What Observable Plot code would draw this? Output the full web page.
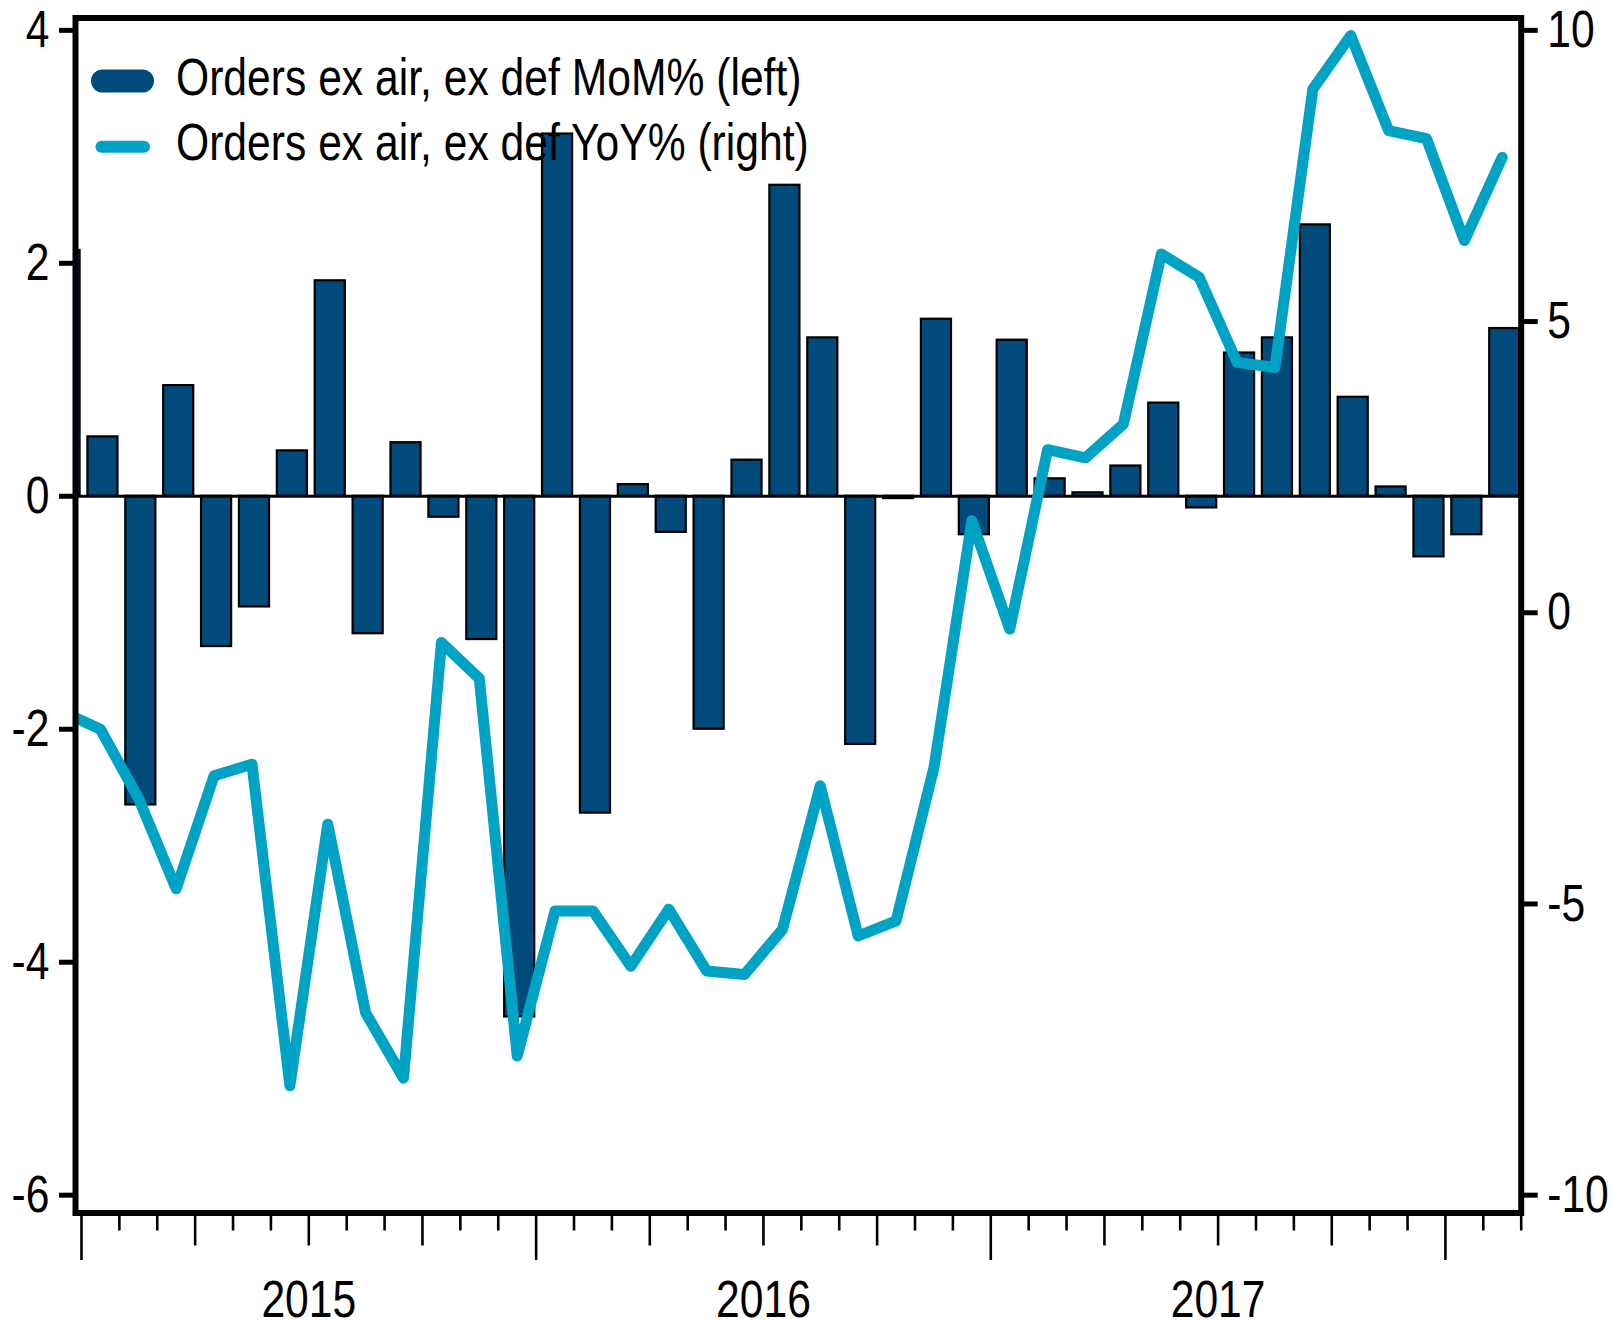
<!DOCTYPE html>
<html>
<head>
<meta charset="utf-8">
<script src="https://cdn.jsdelivr.net/npm/d3@7"></script>
<script src="https://cdn.jsdelivr.net/npm/@observablehq/plot@0.6"></script>
<style>
  html, body { margin: 0; padding: 0; background: #fff; }
  #chart { position: relative; width: 1613px; height: 1325px; }
</style>
</head>
<body>
<div id="chart"></div>
<script>
// ---- data ----
const months = ["2014-12",
  "2015-01","2015-02","2015-03","2015-04","2015-05","2015-06","2015-07","2015-08","2015-09","2015-10","2015-11","2015-12",
  "2016-01","2016-02","2016-03","2016-04","2016-05","2016-06","2016-07","2016-08","2016-09","2016-10","2016-11","2016-12",
  "2017-01","2017-02","2017-03","2017-04","2017-05","2017-06","2017-07","2017-08","2017-09","2017-10","2017-11","2017-12",
  "2018-01","2018-02"];
const momLeft = [2.11,
  0.51, -2.65, 0.95, -1.29, -0.95, 0.39, 1.85, -1.18, 0.46, -0.18, -1.23, -4.47,
  3.11, -2.72, 0.10, -0.31, -2.00, 0.31, 2.67, 1.36, -2.13, -0.02, 1.52, -0.33,
  1.34, 0.15, 0.03, 0.26, 0.80, -0.10, 1.23, 1.36, 2.33, 0.85, 0.08, -0.52,
  -0.33, 1.44];
const yoyRight = [-1.70,
  -2.00, -3.18, -4.74, -2.80, -2.60, -8.12, -3.63, -6.87, -7.99, -0.51, -1.13, -7.61,
  -5.12, -5.12, -6.07, -5.09, -6.15, -6.21, -5.44, -2.97, -5.55, -5.29, -2.66, 1.58,
  -0.28, 2.80, 2.66, 3.24, 6.16, 5.76, 4.30, 4.21, 8.99, 9.91, 8.28, 8.14,
  6.39, 7.82];
const leftTicks = [4, 2, 0, -2, -4, -6];
const rightTicks = [10, 5, 0, -5, -10];
const yearLabels = ["2015", "2016", "2017"];
const seriesNames = ["Orders ex air, ex def MoM% (left)", "Orders ex air, ex def YoY% (right)"];

// ---- derived ----
const baseYear = 2015;
const monthIndex = s => (+s.slice(0, 4) - baseYear) * 12 + (+s.slice(5, 7) - 1);
const rows = months.map((m, i) => ({m, idx: monthIndex(m), mom: momLeft[i], yoy: yoyRight[i]}));
// right axis value r maps onto left units as (r - 2) / 2
const toLeft = r => (r - 2) / 2;
const lastIdx = d3.max(rows, d => d.idx) + 1;
const monthTicks = d3.range(0, lastIdx + 1);
const longTicks = monthTicks.filter(t => t % 12 === 0);
const midTicks = monthTicks.filter(t => t % 12 !== 0 && t % 3 === 0);
const shortTicks = monthTicks.filter(t => t % 3 !== 0);
const yearPos = yearLabels.map(y => (+y - baseYear) * 12 + 6);

const barColor = "#014A7C";
const lineColor = "#00A3C4";
const font = "'Liberation Sans', Arial, sans-serif";
const narrow = 0.82;

const plot = Plot.plot({
  width: 1613,
  height: 1325,
  marginLeft: 75,
  marginRight: 92.3,
  marginTop: 17.5,
  marginBottom: 112.5,
  x: {type: "linear", domain: [-0.158, lastIdx]},
  y: {domain: [-6.153, 4.106]},
  style: {fontFamily: font, background: "#fff", color: "#000", overflow: "visible"},
  marks: [
    Plot.rectY(rows, {x1: d => d.idx, x2: d => d.idx + 1, y1: 0, y2: d => d.mom,
      fill: barColor, stroke: "#000", strokeWidth: 2.2, insetLeft: 6.4, insetRight: 1.4, clip: true}),
    Plot.ruleY([0], {stroke: "#000", strokeWidth: 3}),
    Plot.line(rows, {x: d => d.idx + 0.5, y: d => toLeft(d.yoy), stroke: lineColor,
      strokeWidth: 11, strokeLinejoin: "round", strokeLinecap: "round", clip: true}),
    Plot.axisY(leftTicks, {anchor: "left", tickSize: 16, tickPadding: 10, strokeWidth: 5,
      fontSize: 52, tickFormat: d => String(d), label: null}),
    Plot.axisY(rightTicks.map(toLeft), {anchor: "right", tickSize: 16, tickPadding: 10, strokeWidth: 5,
      fontSize: 52, tickFormat: d => String(Math.round(2 * d + 2)), label: null}),
    Plot.axisX(longTicks, {anchor: "bottom", tickSize: 47.5, strokeWidth: 2.6, fill: null, label: null}),
    Plot.axisX(midTicks, {anchor: "bottom", tickSize: 33, strokeWidth: 2.6, fill: null, label: null}),
    Plot.axisX(shortTicks, {anchor: "bottom", tickSize: 18, strokeWidth: 2.6, fill: null, label: null}),
    Plot.axisX(yearPos, {anchor: "bottom", tickSize: 0, tickPadding: 67, fontSize: 52,
      tickFormat: (d, i) => yearLabels[i], label: null}),
    Plot.frame({stroke: "#000", strokeWidth: 6})
  ]
});

const svg = d3.select(plot);
// enforce stroke weights
const setW = (sel, w) => sel.attr("stroke-width", w).style("stroke-width", w + "px");
setW(svg.selectAll('[aria-label="frame"]'), 6);
setW(svg.selectAll('[aria-label="y-axis tick"], [aria-label="y-axis tick"] path'), 5);
setW(svg.selectAll('[aria-label="x-axis tick"], [aria-label="x-axis tick"] path'), 2.6);
setW(svg.selectAll('[aria-label="line"], [aria-label="line"] path'), 11);

// legend drawn inside the chart area
const lg = svg.append("g").attr("font-family", font).attr("font-size", 52)
  .attr("fill", "#000").attr("text-anchor", "start");
lg.append("rect").attr("x", 91).attr("y", 69.5).attr("width", 63).attr("height", 23)
  .attr("rx", 11.5).attr("fill", barColor);
lg.append("text").attr("x", 176).attr("y", 95).text(seriesNames[0]);
lg.append("line").attr("x1", 101.5).attr("x2", 144).attr("y1", 146.7).attr("y2", 146.7)
  .attr("stroke", lineColor).attr("stroke-width", 12).attr("stroke-linecap", "round");
lg.append("text").attr("x", 176).attr("y", 160).text(seriesNames[1]);

// narrow the type (Arial Narrow look) about each text's own anchor
svg.selectAll("text").each(function() {
  const x = +this.getAttribute("x") || 0;
  const t = this.getAttribute("transform") || "";
  this.setAttribute("transform", `${t} translate(${x},0) scale(${narrow},1) translate(${-x},0)`);
});

document.getElementById("chart").appendChild(plot);
</script>
</body>
</html>
